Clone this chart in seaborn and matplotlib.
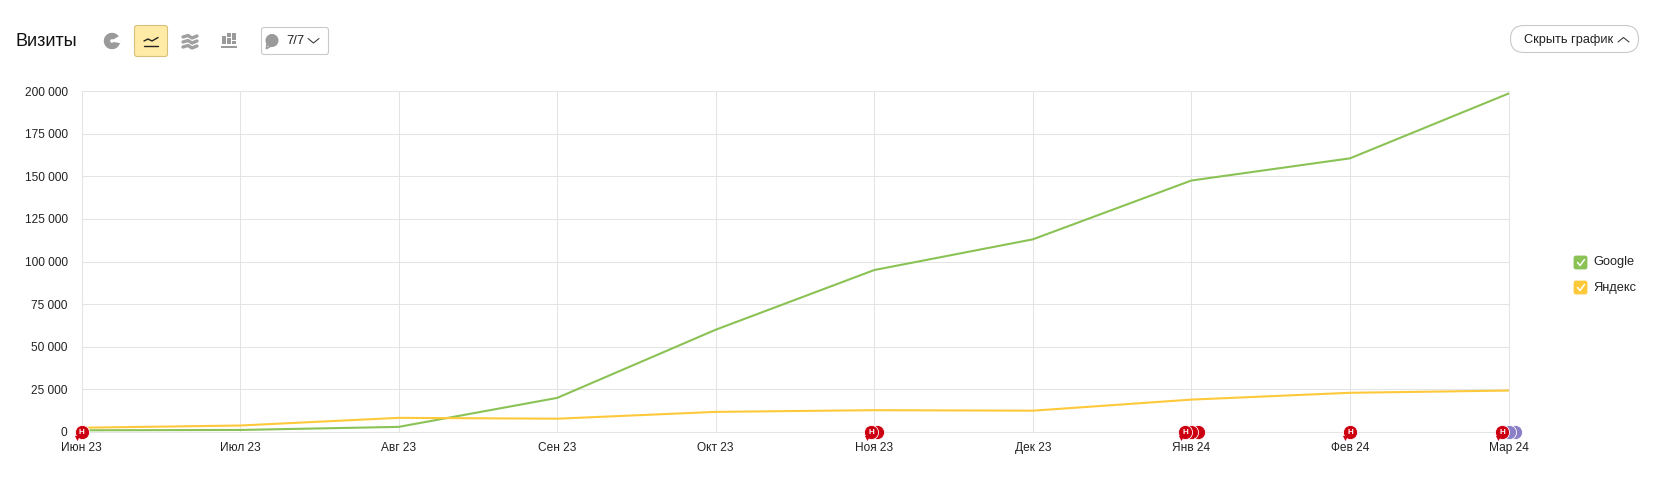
import matplotlib
matplotlib.use("Agg")
import matplotlib.pyplot as plt
import matplotlib.transforms as mtrans
import pandas as pd
import seaborn as sns
from matplotlib.patches import Circle, FancyBboxPatch, Rectangle, Wedge

months = ["Июн 23", "Июл 23", "Авг 23", "Сен 23", "Окт 23", "Ноя 23", "Дек 23", "Янв 24", "Фев 24", "Мар 24"]
google = [1000, 1200, 3000, 20000, 60000, 95000, 113000, 147500, 160500, 198500]
yandex = [2500, 3800, 8300, 7800, 11800, 12800, 12500, 19000, 23000, 24300]
y_ticks = [0, 25000, 50000, 75000, 100000, 125000, 150000, 175000, 200000]

# notes on the x axis: month index, colours from back to front
note_months = [0, 5, 7, 8, 9]
note_colors = [
    ["#cc0011"],
    ["#cc0011", "#cc0011"],
    ["#cc0011", "#cc0011", "#cc0011"],
    ["#cc0011"],
    ["#8b7fc7", "#8b7fc7", "#cc0011"],
]

GREEN = "#8bc255"
YELLOW = "#fdc93b"
W, H = 1656, 482


def draw_toolbar(ui):
    ui.text(16, 41, "Визиты", fontsize=13, va="center", color="#111111")

    # pie icon
    ui.add_patch(Wedge((112, 41), 7.5, 0, 360, width=5, color="#9a9a9a"))
    ui.add_patch(Wedge((112, 41), 8, 330, 10, color="white"))

    # active line button
    ui.add_patch(FancyBboxPatch((134.5, 25.5), 33, 31, boxstyle="round,pad=0,rounding_size=2.5",
                                fc="#ffeba5", ec="#d6c07c", lw=0.8))
    ui.plot([144, 148, 152, 158], [41, 39, 41, 37.5], color="#222222", lw=1.0)
    ui.plot([144, 158], [45.5, 45.5], color="#222222", lw=1.0)

    # stacked area icon
    for dy in (0, 5, 10):
        ui.plot([183, 188, 192, 197], [37 + dy, 35.5 + dy, 38 + dy, 36 + dy], color="#a0a0a0", lw=2.4)

    # column icon
    for x, top, h in [(222, 36, 8), (227.5, 33, 4), (227.5, 38, 6), (232.5, 33, 7), (232.5, 41, 3)]:
        ui.add_patch(Rectangle((x, top), 4, h, color="#9a9a9a", lw=0))
    ui.add_patch(Rectangle((221.5, 45.5), 15.5, 2.5, color="#9a9a9a", lw=0))

    # notes dropdown
    ui.add_patch(FancyBboxPatch((261.5, 27.5), 67, 27, boxstyle="round,pad=0,rounding_size=2.5",
                                fc="white", ec="#c9c9c9", lw=0.8))
    ui.add_patch(Circle((272, 40.5), 6.5, color="#9a9a9a", lw=0))
    ui.plot([267, 266.5, 271], [44, 48.5, 46], color="#9a9a9a", lw=1.2)
    ui.text(286.5, 40.5, "7/7", fontsize=9.4, va="center", color="#222222")
    ui.plot([308, 313.5, 319], [38.5, 43, 38.5], color="#333333", lw=0.75)

    # hide chart button
    ui.add_patch(FancyBboxPatch((1510.5, 25.5), 128, 27, boxstyle="round,pad=0,rounding_size=13.5",
                                fc="white", ec="#c9c9c9", lw=0.8))
    ui.text(1524, 40, "Скрыть график", fontsize=9.2, va="center", color="#222222")
    ui.plot([1618, 1623.5, 1629], [42, 37.5, 42], color="#333333", lw=0.75)


def draw_legend(ui):
    for y, color, label in [(262.5, GREEN, "Google"), (287.5, YELLOW, "Яндекс")]:
        ui.add_patch(FancyBboxPatch((1574, y - 6.5), 13, 13, boxstyle="round,pad=0,rounding_size=2",
                                    fc=color, ec=color, lw=0.6))
        ui.plot([1577.5, 1580, 1584.5], [y, y + 3, y - 3], color="white", lw=1.1)
        ui.text(1593, y, label, fontsize=9.2, va="center", color="#222222")


def draw_notes(fig, ax):
    for month, colors in zip(note_months, note_colors):
        count = len(colors)
        for i, color in enumerate(colors):
            # the group is centred on the tick, the front marker is leftmost
            px = ((count - 1) / 2 - i) * 6.2
            tr = ax.transData + mtrans.ScaledTranslation(px / fig.dpi, 0, fig.dpi_scale_trans)
            ax.scatter([month], [0], s=104, color=color, edgecolors="white", linewidths=0.6,
                       transform=tr, clip_on=False, zorder=5 + i)
            if i == count - 1:
                tail = ax.transData + mtrans.ScaledTranslation((px - 4.5) / fig.dpi, -5.5 / fig.dpi,
                                                               fig.dpi_scale_trans)
                ax.scatter([month], [0], s=14, marker="v", color=color, linewidths=0,
                           transform=tail, clip_on=False, zorder=5 + i)
                ax.text(month, 0, "Н", fontsize=5.8, fontweight="bold", color="white", ha="center",
                        va="center_baseline", transform=tr, clip_on=False, zorder=10)


def main():
    sns.set_theme(style="whitegrid")
    plt.rcParams["font.family"] = ["Liberation Sans", "DejaVu Sans"]

    df = pd.DataFrame({"month": range(len(months)), "Google": google, "Яндекс": yandex})
    long_df = df.melt(id_vars="month", var_name="source", value_name="visits")

    fig = plt.figure(figsize=(W / 100, H / 100), dpi=100, facecolor="white")
    left, right, top, bottom = 81.5, 1508.5, 91, 432
    ax = fig.add_axes([left / W, 1 - bottom / H, (right - left) / W, (bottom - top) / H])

    sns.lineplot(data=long_df, x="month", y="visits", hue="source", hue_order=["Google", "Яндекс"],
                 palette={"Google": GREEN, "Яндекс": YELLOW}, linewidth=1.5, legend=False, ax=ax, zorder=3)

    ax.set_xlim(0, len(months) - 1)
    ax.set_ylim(0, 200000)
    ax.set_xticks(range(len(months)))
    ax.set_xticklabels(months)
    ax.set_yticks(y_ticks)
    ax.set_yticklabels([f"{v:,}".replace(",", " ") for v in y_ticks])
    ax.set_xlabel("")
    ax.set_ylabel("")
    ax.grid(True, color="#e4e4e4", linewidth=0.75)
    ax.set_axisbelow(True)
    for spine in ax.spines.values():
        spine.set_color("#e4e4e4")
        spine.set_linewidth(0.75)
    ax.tick_params(axis="both", length=0, labelsize=8.6, labelcolor="#222222")
    ax.tick_params(axis="x", pad=7)
    ax.tick_params(axis="y", pad=10)
    draw_notes(fig, ax)

    # overlay in pixel coordinates for the page controls around the chart
    ui = fig.add_axes([0, 0, 1, 1], facecolor="none", zorder=-1)
    ui.set_xlim(0, W)
    ui.set_ylim(H, 0)
    ui.axis("off")
    draw_toolbar(ui)
    draw_legend(ui)

    fig.savefig("out.png", dpi=100, facecolor="white")
    plt.close(fig)


if __name__ == "__main__":
    main()
